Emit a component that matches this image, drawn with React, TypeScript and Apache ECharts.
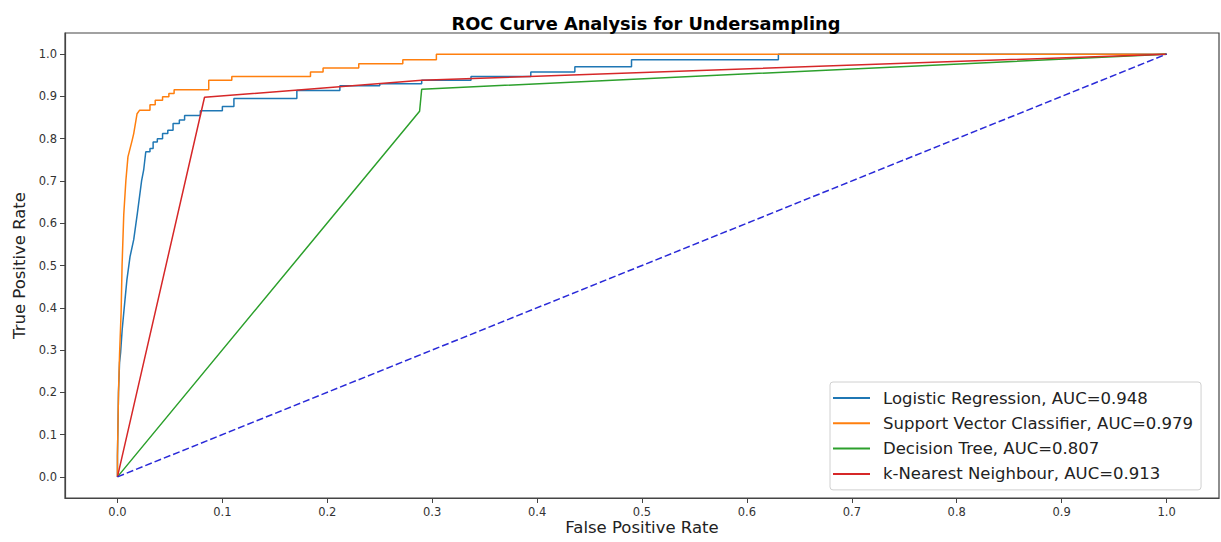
import React, { useEffect, useRef } from "react";
import * as echarts from "echarts";

const chartTitle = "ROC Curve Analysis for Undersampling";
const xName = "False Positive Rate";
const yName = "True Positive Rate";
const tickValues = [0, 0.1, 0.2, 0.3, 0.4, 0.5, 0.6, 0.7, 0.8, 0.9, 1.0];

const modelNames = [
  "Logistic Regression, AUC=0.948",
  "Support Vector Classifier, AUC=0.979",
  "Decision Tree, AUC=0.807",
  "k-Nearest Neighbour, AUC=0.913",
];
const modelColors = ["#1f77b4", "#ff7f0e", "#2ca02c", "#d62728"];

// [FPR, TPR]
const lrPoints: [number, number][] = [
  [0, 0], [0, 0.05], [0.001, 0.2], [0.002, 0.27], [0.003, 0.294], [0.0045, 0.348],
  [0.006, 0.388], [0.009, 0.466], [0.012, 0.521], [0.0155, 0.561], [0.019, 0.624],
  [0.023, 0.7], [0.025, 0.726], [0.027, 0.769], [0.031, 0.769], [0.031, 0.777],
  [0.034, 0.777], [0.034, 0.792], [0.038, 0.792], [0.038, 0.8], [0.043, 0.8],
  [0.043, 0.812], [0.048, 0.812], [0.048, 0.82], [0.053, 0.82], [0.053, 0.836],
  [0.059, 0.836], [0.059, 0.844], [0.064, 0.844], [0.064, 0.855], [0.079, 0.855],
  [0.079, 0.866], [0.1, 0.866], [0.1, 0.876], [0.111, 0.876], [0.111, 0.895],
  [0.171, 0.895], [0.171, 0.914], [0.212, 0.914], [0.212, 0.925], [0.25, 0.925],
  [0.25, 0.93], [0.29, 0.93], [0.29, 0.938], [0.337, 0.938], [0.337, 0.947],
  [0.394, 0.947], [0.394, 0.958], [0.436, 0.958], [0.436, 0.97], [0.49, 0.97],
  [0.49, 0.987], [0.63, 0.987], [0.63, 1], [1, 1],
];

const svcPoints: [number, number][] = [
  [0, 0], [0, 0.05], [0.001, 0.2], [0.002, 0.29], [0.0035, 0.39], [0.0044, 0.5],
  [0.006, 0.62], [0.008, 0.7], [0.01, 0.757], [0.014, 0.796], [0.0155, 0.812],
  [0.0187, 0.859], [0.021, 0.867], [0.031, 0.867], [0.031, 0.88], [0.036, 0.88],
  [0.036, 0.891], [0.043, 0.891], [0.043, 0.899], [0.049, 0.899], [0.049, 0.907],
  [0.054, 0.907], [0.054, 0.916], [0.087, 0.916], [0.087, 0.938], [0.109, 0.938],
  [0.109, 0.947], [0.184, 0.947], [0.184, 0.958], [0.196, 0.958], [0.196, 0.967],
  [0.23, 0.967], [0.23, 0.977], [0.272, 0.977], [0.272, 0.987], [0.304, 0.987],
  [0.304, 1], [1, 1],
];

const dtPoints: [number, number][] = [[0, 0], [0.288, 0.865], [0.29, 0.917], [1, 1]];
const knnPoints: [number, number][] = [[0, 0], [0.083, 0.898], [0.29, 0.938], [1, 1]];
const chancePoints: [number, number][] = [[0, 0], [1, 1]];

const FONT = "DejaVu Sans";

export default function App() {
  const ref = useRef<HTMLDivElement>(null);
  useEffect(() => {
    if (!ref.current) return;
    const chart = echarts.init(ref.current, null, { renderer: "svg" });
    const allPoints = [lrPoints, svcPoints, dtPoints, knnPoints];
    const axisCommon = {
      type: "value",
      min: -0.05,
      max: 1.05,
      axisLine: { show: true, onZero: false, lineStyle: { color: "#444", width: 1.2 } },
      axisTick: {
        show: true,
        inside: false,
        length: 5,
        customValues: tickValues,
        lineStyle: { color: "#444", width: 1 },
      },
      axisLabel: {
        customValues: tickValues,
        formatter: (v: number) => v.toFixed(1),
        fontFamily: FONT,
        fontSize: 11.5,
        color: "#333",
        margin: 8,
      },
      splitLine: { show: false },
      nameLocation: "middle",
      nameMoveOverlap: false,
      nameTextStyle: { fontFamily: FONT, fontSize: 16.5, color: "#222", lineHeight: 17 },
    };
    chart.setOption({
      animation: false,
      backgroundColor: "#fff",
      title: {
        text: chartTitle,
        left: 641,
        top: 9,
        textAlign: "center",
        textStyle: { fontFamily: FONT, fontSize: 17.8, fontWeight: "bold", color: "#000" },
      },
      grid: {
        left: 65,
        right: 2,
        top: 33,
        bottom: 44,
        containLabel: false,
        outerBoundsMode: "none",
        show: true,
        borderColor: "#444",
        borderWidth: 1.2,
        backgroundColor: "transparent",
      },
      xAxis: { ...axisCommon, name: xName, nameGap: 21 },
      yAxis: { ...axisCommon, name: yName, nameGap: 37 },
      legend: {
        data: modelNames,
        orient: "vertical",
        left: 830,
        top: 382,
        padding: [6, 8, 6, 3],
        itemWidth: 37,
        itemHeight: 2,
        itemGap: 5.3,
        icon: "rect",
        backgroundColor: "rgba(255,255,255,0.85)",
        borderColor: "#d0d0d0",
        borderWidth: 1,
        borderRadius: 3,
        textStyle: {
          fontFamily: FONT,
          fontSize: 16.5,
          color: "#222",
          lineHeight: 20,
          padding: [0, 0, 0, 8],
        },
      },
      series: [
        ...modelNames.map((name, i) => ({
          name,
          type: "line",
          data: allPoints[i],
          showSymbol: false,
          symbol: "none",
          color: modelColors[i],
          lineStyle: { color: modelColors[i], width: 1.5 },
          z: 2 + i,
        })),
        {
          name: "chance",
          type: "line",
          data: chancePoints,
          showSymbol: false,
          symbol: "none",
          color: "#2a2ad8",
          lineStyle: { color: "#2a2ad8", width: 1.5, type: [7, 3] },
          z: 10,
        },
      ],
    });
    return () => chart.dispose();
  }, []);
  return (
    <div
      ref={ref}
      style={{ position: "fixed", left: 0, top: 0, width: 1221, height: 542 }}
    />
  );
}
